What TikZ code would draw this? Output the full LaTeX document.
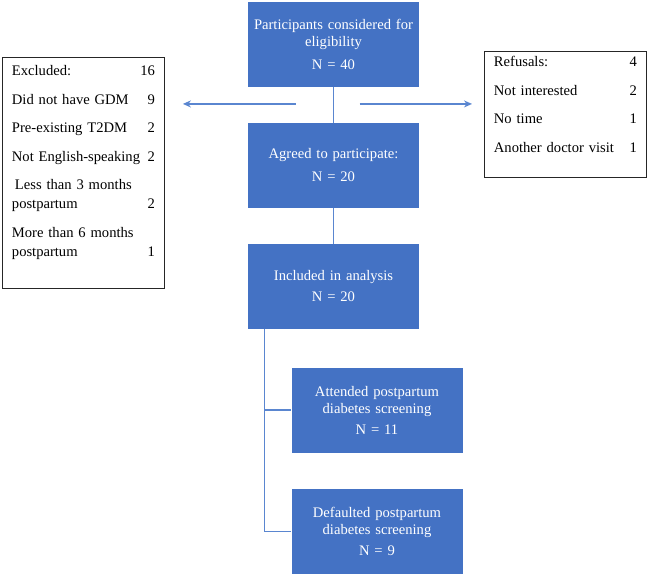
\documentclass[tikz,border=0pt]{standalone}
\usepackage{fontspec}
\setmainfont{Liberation Serif}
\usetikzlibrary{calc}
\usetikzlibrary{positioning}
\usetikzlibrary{arrows.meta}

\definecolor{boxblue}{HTML}{4472C4}
\definecolor{lineblue}{HTML}{5A86D0}

\tikzset{
    stagebox/.style={fill=boxblue,text=white,minimum width=171pt,minimum height=85pt,
        text width=169pt,inner xsep=1pt,align=center,font=\fontsize{14.6}{17}\selectfont},
    listbox/.style={draw=black!85,line width=0.9pt,anchor=north west,align=left,
        text width=143pt,inner xsep=9.5pt,font=\fontsize{14.6}{19}\selectfont},
    link/.style={lineblue,line width=1.2pt}
}

\begin{document}
\begin{tikzpicture}[>={Stealth[length=8pt,width=7pt]},x=1pt,y=-1pt]
    \useasboundingbox (0,0) rectangle (649,576);
    \node[stagebox] (elig) at (333.5,44.5) {Participants considered for\\ eligibility\\[6pt] N = 40};
    \node[stagebox] (agreed) at (333.5,165.5) {Agreed to participate:\\[6pt] N = 20};
    \node[stagebox] (incl) at (333.5,286.5) {Included in analysis\\[4pt] N = 20};
    \node[stagebox] (attend) at (377,410) {Attended postpartum\\ diabetes screening\\[4pt] N = 11};
    \node[stagebox] (default) at (377,531.5) {Defaulted postpartum\\ diabetes screening\\[4pt] N = 9};
    \node[listbox,inner ysep=8pt] (excl) at (2,57) {Excluded:\hfill 16\\[9.5pt]
        Did not have GDM\hfill 9\\[9.5pt]
        Pre-existing T2DM\hfill 2\\[9.5pt]
        Not English-speaking\hfill 2\\[9.5pt]
        \hspace{3pt}Less than 3 months\\
        postpartum\hfill 2\\[9.5pt]
        More than 6 months\\
        postpartum\hfill 1\\[5pt]\rule{0pt}{0pt}};
    \node[listbox,inner ysep=5pt] (refus) at (484,51) {Refusals:\hfill 4\\[9.5pt]
        Not interested\hfill 2\\[9.5pt]
        No time\hfill 1\\[9.5pt]
        Another doctor visit\hfill 1\\[1pt]\rule{0pt}{0pt}};
    \coordinate (split) at ($(elig.south)!0.47!(agreed.north)$);
    \draw[link] (elig) -- (agreed);
    \draw[link] (agreed) -- (incl);
    \draw[link,->,shorten >=18pt] ([xshift=-38pt]split) -- (excl.east |- split);
    \draw[link,->,shorten >=12pt] ([xshift=26pt]split) -- (refus.west |- split);
    \coordinate (trunk) at ([xshift=17pt]incl.south west);
    \draw[link] (trunk) |- (default.west);
    \draw[link] (trunk |- attend.west) -- (attend.west);
\end{tikzpicture}
\end{document}
